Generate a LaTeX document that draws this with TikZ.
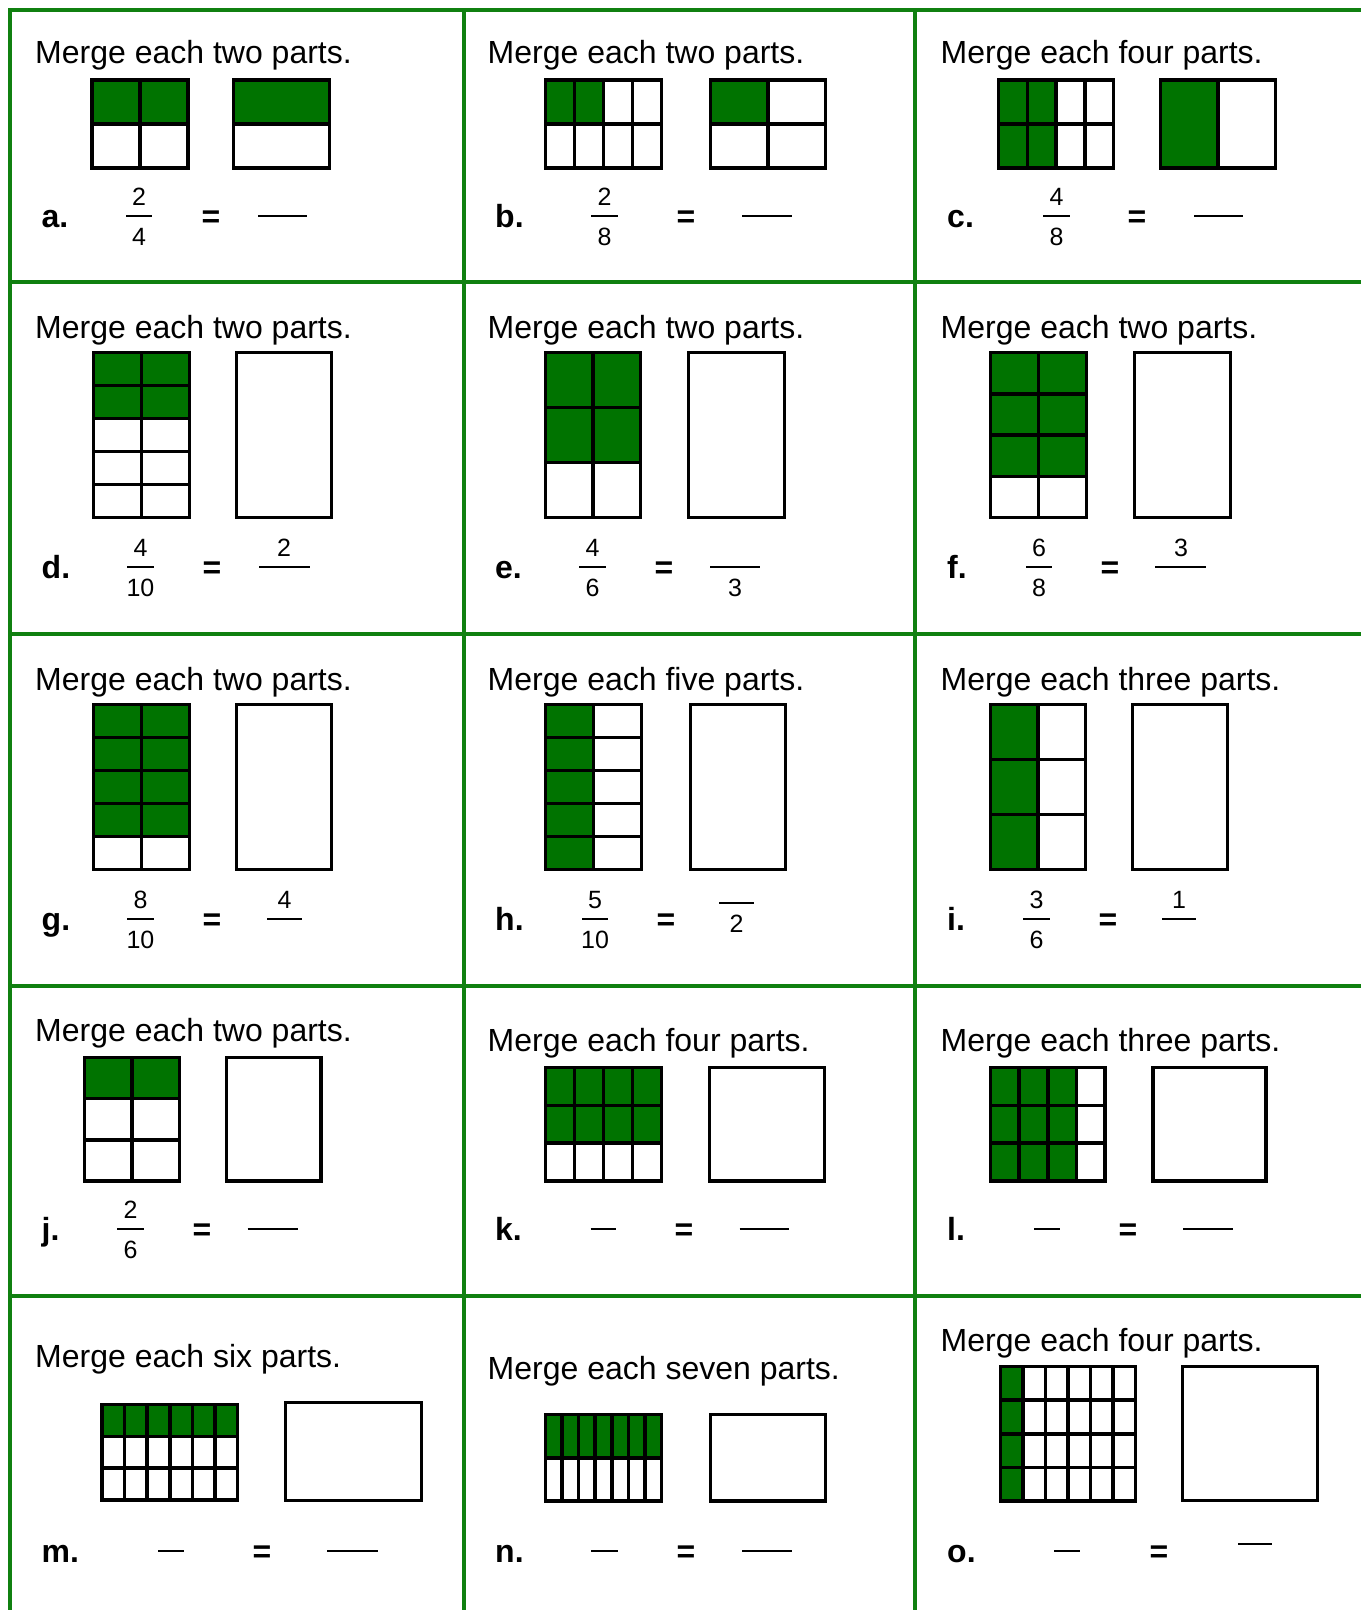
\documentclass[tikz,border=0pt]{standalone}
\usepackage{fontspec}
\setmainfont{Liberation Sans}
\definecolor{gridgreen}{RGB}{16,128,16}
\definecolor{cellgreen}{RGB}{0,115,0}
\tikzset{
  gridline/.style={draw=gridgreen, line width=3.8pt},
  boxline/.style={draw=black, line width=3.5pt},
  barline/.style={draw=black, line width=2.8pt},
  titletext/.style={anchor=base west, inner sep=0pt, font=\fontsize{32}{38}\selectfont},
  labeltext/.style={anchor=base west, inner sep=0pt, font=\fontsize{32}{38}\selectfont\bfseries},
  digittext/.style={anchor=base, inner sep=0pt, font=\fontsize{25}{29}\selectfont},
  eqtext/.style={anchor=base, inner sep=0pt, font=\fontsize{32}{38}\selectfont\bfseries},
}
% x0 y0 x1 y1 ncols nrows greencols greenrows
\newcommand{\fgrid}[8]{%
  \ifnum#7>0 \fill[cellgreen] (#1,#2) rectangle ({#1+(#3-#1)*#7/#5},{#2+(#4-#2)*#8/#6});\fi
  \pgfmathtruncatemacro{\gNC}{#5-1}%
  \pgfmathtruncatemacro{\gNR}{#6-1}%
  \ifnum\gNC>0 \foreach \gi in {1,...,\gNC}{\draw[boxline] ({#1+(#3-#1)*\gi/#5},#2) -- ({#1+(#3-#1)*\gi/#5},#4);}\fi
  \ifnum\gNR>0 \foreach \gj in {1,...,\gNR}{\draw[boxline] (#1,{#2+(#4-#2)*\gj/#6}) -- (#3,{#2+(#4-#2)*\gj/#6});}\fi
  \draw[boxline] (#1,#2) rectangle (#3,#4);
}
% bar: x0 x1 y
\newcommand{\fbar}[3]{\draw[barline] (#1,#3) -- (#2,#3);}
\begin{document}
\begin{tikzpicture}[x=1pt,y=-1pt]
\useasboundingbox (0,0) rectangle (1361,1610);
\fill[white] (0,0) rectangle (1361,1610);
% green table
\foreach \gx in {10,464,915}{\draw[gridline] (\gx,8) -- (\gx,1610);}
\foreach \gy in {10,282,634,986,1296}{\draw[gridline] (8,\gy) -- (1361,\gy);}

% ---------- row 1 ----------
\node[titletext] (ta) at (35,63) {Merge each two parts.};
\node[titletext] (tb) at (487.5,63) {Merge each two parts.};
\node[titletext] (tc) at (940.5,63) {Merge each four parts.};
\fgrid{92}{80}{188}{168}{2}{2}{2}{1}
\fgrid{233.5}{80}{329.5}{168}{1}{2}{1}{1}
\fgrid{545.5}{80}{661.5}{168}{4}{2}{2}{1}
\fgrid{710.5}{80}{825.5}{168}{2}{2}{1}{1}
\fgrid{998.5}{80}{1113.5}{168}{4}{2}{2}{2}
\fgrid{1160.5}{80}{1275.5}{168}{2}{1}{1}{1}
\node[labeltext] (la) at (41.5,227) {a.};
\node[labeltext] (lb) at (495,227) {b.};
\node[labeltext] (lc) at (947,227) {c.};
\fbar{126}{152}{216} \node[digittext] (na) at (139,205) {2}; \node[digittext] (da) at (139,245.5) {4};
\fbar{591}{618}{216} \node[digittext] (nb) at (604.5,205) {2}; \node[digittext] (db) at (604.5,245.5) {8};
\fbar{1043}{1070}{216} \node[digittext] (nc) at (1056.5,205) {4}; \node[digittext] (dc) at (1056.5,245.5) {8};
\node[eqtext] (ea) at (211,227.5) {=};
\node[eqtext] (eb) at (686,227.5) {=};
\node[eqtext] (ec) at (1137,227.5) {=};
\fbar{258}{307}{216}
\fbar{742}{792}{216}
\fbar{1194}{1243}{216}

% ---------- row 2 ----------
\node[titletext] (td) at (35,338) {Merge each two parts.};
\node[titletext] (te) at (487.5,338) {Merge each two parts.};
\node[titletext] (tf) at (940.5,338) {Merge each two parts.};
\fgrid{93.5}{352.5}{189.5}{517.5}{2}{5}{2}{2}
\fgrid{236.5}{352.5}{331.5}{517.5}{1}{1}{0}{0}
\fgrid{545.5}{352.5}{640.5}{517.5}{2}{3}{2}{2}
\fgrid{688.5}{352.5}{784.5}{517.5}{1}{1}{0}{0}
\fgrid{990.5}{352.5}{1086.5}{517.5}{2}{4}{2}{3}
\fgrid{1134.5}{352.5}{1230.5}{517.5}{1}{1}{0}{0}
\node[labeltext] (ld) at (41.5,578) {d.};
\node[labeltext] (le) at (495,578) {e.};
\node[labeltext] (lf) at (947,578) {f.};
\fbar{127}{154}{567} \node[digittext] (nd) at (140.5,556) {4}; \node[digittext] (dd) at (140.5,596.5) {10};
\fbar{579}{606}{567} \node[digittext] (ne) at (592.5,556) {4}; \node[digittext] (de) at (592.5,596.5) {6};
\fbar{1026}{1052}{567} \node[digittext] (nf) at (1039,556) {6}; \node[digittext] (df) at (1039,596.5) {8};
\node[eqtext] (ed) at (212,578.5) {=};
\node[eqtext] (ee) at (664,578.5) {=};
\node[eqtext] (ef) at (1110,578.5) {=};
\fbar{259}{310}{567} \node[digittext] (and) at (284,556) {2};
\fbar{710}{760}{567} \node[digittext] (ade) at (735,596.5) {3};
\fbar{1155}{1206}{567} \node[digittext] (anf) at (1181,556) {3};

% ---------- row 3 ----------
\node[titletext] (tg) at (35,690) {Merge each two parts.};
\node[titletext] (th) at (487.5,690) {Merge each five parts.};
\node[titletext] (ti) at (940.5,690) {Merge each three parts.};
\fgrid{93.5}{704.5}{189.5}{869.5}{2}{5}{2}{4}
\fgrid{236.5}{704.5}{331.5}{869.5}{1}{1}{0}{0}
\fgrid{545.5}{704.5}{641.5}{869.5}{2}{5}{1}{5}
\fgrid{690.5}{704.5}{785.5}{869.5}{1}{1}{0}{0}
\fgrid{990.5}{704.5}{1085.5}{869.5}{2}{3}{1}{3}
\fgrid{1132.5}{704.5}{1227.5}{869.5}{1}{1}{0}{0}
\node[labeltext] (lg) at (41.5,930) {g.};
\node[labeltext] (lh) at (495,930) {h.};
\node[labeltext] (li) at (947,930) {i.};
\fbar{127}{154}{919} \node[digittext] (ng) at (140.5,908) {8}; \node[digittext] (dg) at (140.5,948.5) {10};
\fbar{582}{608}{919} \node[digittext] (nh) at (595,908) {5}; \node[digittext] (dh) at (595,948.5) {10};
\fbar{1023}{1050}{919} \node[digittext] (ni) at (1036.5,908) {3}; \node[digittext] (di) at (1036.5,948.5) {6};
\node[eqtext] (eg) at (212,930.5) {=};
\node[eqtext] (eh) at (666,930.5) {=};
\node[eqtext] (ei) at (1108,930.5) {=};
\fbar{267}{302}{919} \node[digittext] (ang) at (284.5,908) {4};
\fbar{719}{754}{903} \node[digittext] (adh) at (736.5,932) {2};
\fbar{1162}{1196}{919} \node[digittext] (ani) at (1179,908) {1};

% ---------- row 4 ----------
\node[titletext] (tj) at (35,1041) {Merge each two parts.};
\node[titletext] (tk) at (487.5,1051) {Merge each four parts.};
\node[titletext] (tl) at (940.5,1051) {Merge each three parts.};
\fgrid{84.5}{1057.5}{179.5}{1181}{2}{3}{2}{1}
\fgrid{226.5}{1057.5}{321}{1181}{1}{1}{0}{0}
\fgrid{545.5}{1067.5}{661.5}{1181}{4}{3}{4}{2}
\fgrid{709.5}{1067.5}{824.5}{1181}{1}{1}{0}{0}
\fgrid{990.5}{1067.5}{1105}{1181}{4}{3}{3}{3}
\fgrid{1153}{1067.5}{1266}{1181}{1}{1}{0}{0}
\node[labeltext] (lj) at (41.5,1240) {j.};
\node[labeltext] (lk) at (495,1240) {k.};
\node[labeltext] (ll) at (947,1240) {l.};
\fbar{117}{144}{1229} \node[digittext] (nj) at (130.5,1218) {2}; \node[digittext] (dj) at (130.5,1258.5) {6};
\fbar{590.5}{616}{1229}
\fbar{1034}{1060}{1229}
\node[eqtext] (ej) at (202,1240.5) {=};
\node[eqtext] (ek) at (684,1240.5) {=};
\node[eqtext] (el) at (1128,1240.5) {=};
\fbar{247.5}{298}{1229}
\fbar{739.5}{789}{1229}
\fbar{1183}{1233}{1229}

% ---------- row 5 ----------
\node[titletext] (tm) at (35,1367) {Merge each six parts.};
\node[titletext] (tn) at (487.5,1379) {Merge each seven parts.};
\node[titletext] (to) at (940.5,1351) {Merge each four parts.};
\fgrid{102}{1404.5}{237.5}{1500}{6}{3}{6}{1}
\fgrid{285.5}{1402.5}{421.5}{1500.5}{1}{1}{0}{0}
\fgrid{545.5}{1414.5}{661.5}{1501}{7}{2}{7}{1}
\fgrid{710.5}{1414.5}{825.5}{1501}{1}{1}{0}{0}
\fgrid{1000.5}{1366.5}{1135.5}{1501}{6}{4}{1}{4}
\fgrid{1182.5}{1366.5}{1317.5}{1500.5}{1}{1}{0}{0}
\node[labeltext] (lm) at (41.5,1562) {m.};
\node[labeltext] (ln) at (495,1562) {n.};
\node[labeltext] (lo) at (947,1562) {o.};
\fbar{158}{184}{1551}
\fbar{591}{618}{1551}
\fbar{1054}{1080}{1551}
\node[eqtext] (em) at (262,1562.5) {=};
\node[eqtext] (en) at (686,1562.5) {=};
\node[eqtext] (eo) at (1159,1562.5) {=};
\fbar{327}{378}{1551}
\fbar{742}{792}{1551}
\fbar{1238}{1272}{1544}
\end{tikzpicture}
\end{document}
